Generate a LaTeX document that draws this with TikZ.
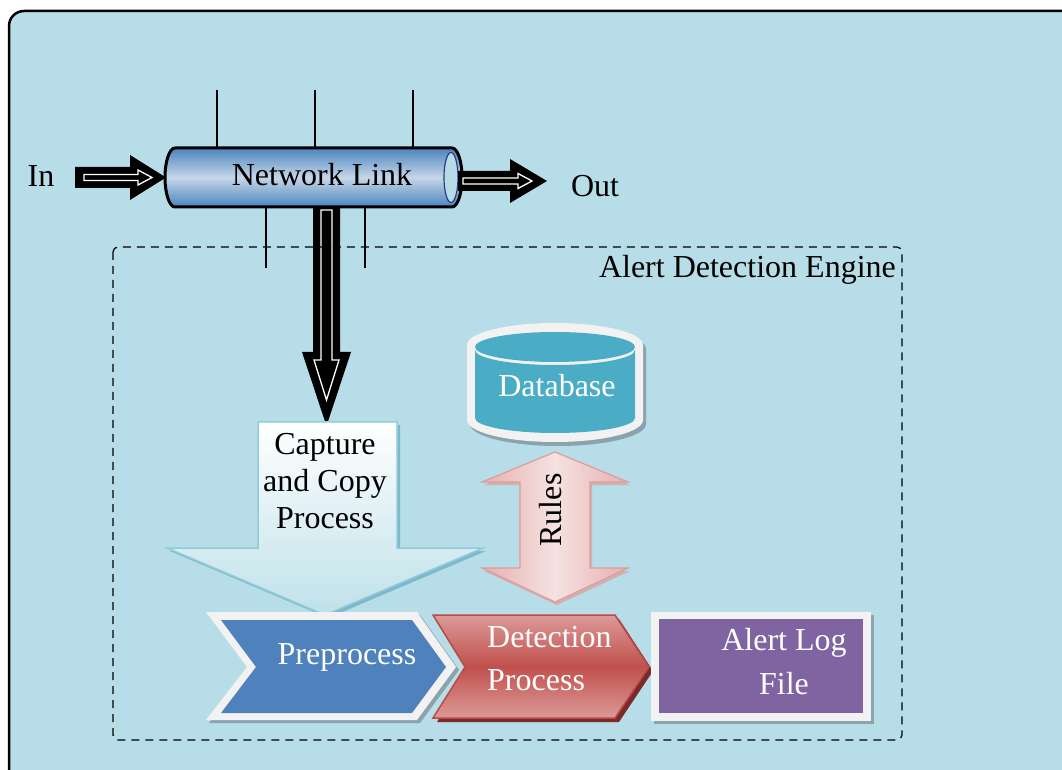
\documentclass[tikz,border=0pt]{standalone}
\usepackage{fontspec}
\setmainfont{Liberation Serif}
\definecolor{bg}{HTML}{B7DDE8}
\definecolor{cylDark}{HTML}{4A84BE}
\definecolor{cylLight}{HTML}{C6D6E8}
\definecolor{cylEnd}{HTML}{B6DBE7}
\definecolor{navy}{HTML}{2E3A87}
\definecolor{capB}{HTML}{BFE1EA}
\definecolor{capLine}{HTML}{8FCBDA}
\definecolor{capShadow}{HTML}{7FB8C8}
\definecolor{dbOut}{HTML}{F2F2F2}
\definecolor{teal}{HTML}{4BACC6}
\definecolor{grayShadow}{HTML}{8AA3AD}
\definecolor{ruleSide}{HTML}{E5B1B0}
\definecolor{ruleMid}{HTML}{F5E2E1}
\definecolor{ruleLine}{HTML}{DC9D9B}
\definecolor{preBlue}{HTML}{4F81BD}
\definecolor{detLight}{HTML}{DC9A98}
\definecolor{detDark}{HTML}{C0504D}
\definecolor{detLine}{HTML}{BA4A47}
\definecolor{detShadow}{HTML}{7A2A28}
\definecolor{purp}{HTML}{8064A2}
\begin{document}
\begin{tikzpicture}[x=1pt,y=1pt,
  txt/.style={font=\fontsize{32}{37}\selectfont, inner sep=0pt},
  wtxt/.style={txt, text=white},
  tick/.style={line width=1.2},
  hollow/.style={draw=white, line width=1.3, line join=miter}]
\useasboundingbox (0,0) rectangle (1062,769);
\fill[white] (0,0) rectangle (1062,769);
\draw[line width=2.5, fill=bg, rounded corners=15] (9,758) rectangle (1100,-40);

% ticks
\foreach \x in {217,315,413} \draw[tick] (\x,679) -- (\x,621);
\foreach \x in {266,365} \draw[tick] (\x,562) -- (\x,501);

% down arrow (behind cylinder)
\fill (313,566) -- (340,566) -- (340,417) -- (351,417) -- (326.5,343) -- (302,417) -- (313,417) -- cycle;
\draw[hollow] (321,559) -- (332,559) -- (332,409) -- (339,409) -- (326.5,369) -- (314,409) -- (321,409) -- cycle;

% network link cylinder
\shadedraw[line width=3, top color=cylDark, bottom color=cylDark, middle color=cylLight]
  (175,621) -- (452,621) arc[start angle=90,end angle=-90,x radius=10,y radius=29.5]
  -- (175,562) arc[start angle=270,end angle=90,x radius=10,y radius=29.5] -- cycle;
\filldraw[fill=cylEnd, draw=navy, line width=1.2] (451,591.5) ellipse[x radius=7, y radius=25];
\node[txt] (link) at (322,594) {Network Link};

% In arrow
\fill (75,602) -- (130,602) -- (130,614) -- (166,591.5) -- (130,569) -- (130,581) -- (75,581) -- cycle;
\draw[hollow] (84,594.5) -- (138,594.5) -- (138,599) -- (152,591.5) -- (138,584) -- (138,588.5) -- (84,588.5) -- cycle;
\node[txt] (in) at (41,593) {In};

% Out arrow
\fill (458,598) -- (510,598) -- (510,610) -- (547,588) -- (510,566) -- (510,578) -- (458,578) -- cycle;
\draw[hollow] (463,591) -- (518,591) -- (518,595.5) -- (532,588) -- (518,580.5) -- (518,585) -- (463,585) -- cycle;
\node[txt] (out) at (595,583) {Out};

% engine frame
\draw[line width=1.2, rounded corners=5, dash pattern=on 8pt off 6pt] (113,522) rectangle (902,29);
\node[txt, anchor=east] (engine) at (896,499) {Alert Detection Engine};

% capture arrow
\fill[capShadow] ([shift={(3,-3)}]258,347) -- ([shift={(3,-3)}]397,347) -- ([shift={(3,-3)}]397,221) -- ([shift={(3,-3)}]483,221) -- ([shift={(3,-3)}]325,154) -- ([shift={(3,-3)}]167,221) -- ([shift={(3,-3)}]258,221) -- cycle;
\shadedraw[top color=white, bottom color=capB, draw=capLine, line width=1.5]
  (258,347) -- (397,347) -- (397,221) -- (483,221) -- (325,154) -- (167,221) -- (258,221) -- cycle;
\node[txt, align=center] (capture) at (325,288) {Capture\\and Copy\\Process};

% database
\fill[grayShadow] ([shift={(3,-4)}]467,424) -- ([shift={(3,-4)}]467,349) arc[start angle=180,end angle=360,x radius=88,y radius=22] -- ([shift={(3,-4)}]643,424) arc[start angle=0,end angle=180,x radius=88,y radius=22] -- cycle;
\fill[dbOut] (467,424) -- (467,349) arc[start angle=180,end angle=360,x radius=88,y radius=22] -- (643,424) arc[start angle=0,end angle=180,x radius=88,y radius=22] -- cycle;
\fill[teal] (475,419) -- (475,351) arc[start angle=180,end angle=360,x radius=80,y radius=15] -- (635,419) arc[start angle=0,end angle=-180,x radius=80,y radius=15] -- cycle;
\fill[teal] (555,422) ellipse[x radius=80, y radius=15];
\node[wtxt] (db) at (557,383) {Database};

% rules double arrow
\fill[ruleLine!70!bg] ([shift={(2,-3)}]555,317) -- ([shift={(2,-3)}]628,287) -- ([shift={(2,-3)}]590,287) -- ([shift={(2,-3)}]590,201) -- ([shift={(2,-3)}]628,201) -- ([shift={(2,-3)}]555,167) -- ([shift={(2,-3)}]482,201) -- ([shift={(2,-3)}]520,201) -- ([shift={(2,-3)}]520,287) -- ([shift={(2,-3)}]482,287) -- cycle;
\shadedraw[left color=ruleSide, right color=ruleSide, middle color=ruleMid, draw=ruleLine, line width=1.2]
  (555,317) -- (628,287) -- (590,287) -- (590,201) -- (628,201) -- (555,167) -- (482,201) -- (520,201) -- (520,287) -- (482,287) -- cycle;
\node[txt, rotate=90] (rules) at (551,259) {Rules};

% preprocess chevron
\fill[grayShadow] ([shift={(3,-3)}]206,157) -- ([shift={(3,-3)}]417,157) -- ([shift={(3,-3)}]456,102) -- ([shift={(3,-3)}]417,49) -- ([shift={(3,-3)}]206,49) -- ([shift={(3,-3)}]247,102) -- cycle;
\fill[dbOut] (206,157) -- (417,157) -- (456,102) -- (417,49) -- (206,49) -- (247,102) -- cycle;
\fill[preBlue] (221,149) -- (412,149) -- (446,102) -- (412,56) -- (221,56) -- (256,102) -- cycle;
\node[wtxt] (pre) at (347,112) {Preprocess};

% detection chevron
\fill[detShadow] ([shift={(4,-4)}]433,154) -- ([shift={(4,-4)}]615,154) -- ([shift={(4,-4)}]649,102) -- ([shift={(4,-4)}]615,51) -- ([shift={(4,-4)}]433,51) -- ([shift={(4,-4)}]465,102) -- cycle;
\shadedraw[top color=detLight, bottom color=detLight, middle color=detDark, draw=detLine, line width=1.5]
  (433,154) -- (615,154) -- (649,102) -- (615,51) -- (433,51) -- (465,102) -- cycle;
\node[wtxt, align=left, anchor=west, font=\fontsize{32}{43}\selectfont] (det) at (487,110) {Detection\\Process};

% alert log file
\fill[grayShadow] (654,154) rectangle (874,45);
\fill[dbOut] (651,157) rectangle (871,48);
\fill[purp] (659,150) rectangle (863,56);
\node[wtxt, align=center, font=\fontsize{32}{44}\selectfont] (log) at (784,107) {Alert Log\\File};
\end{tikzpicture}
\end{document}
